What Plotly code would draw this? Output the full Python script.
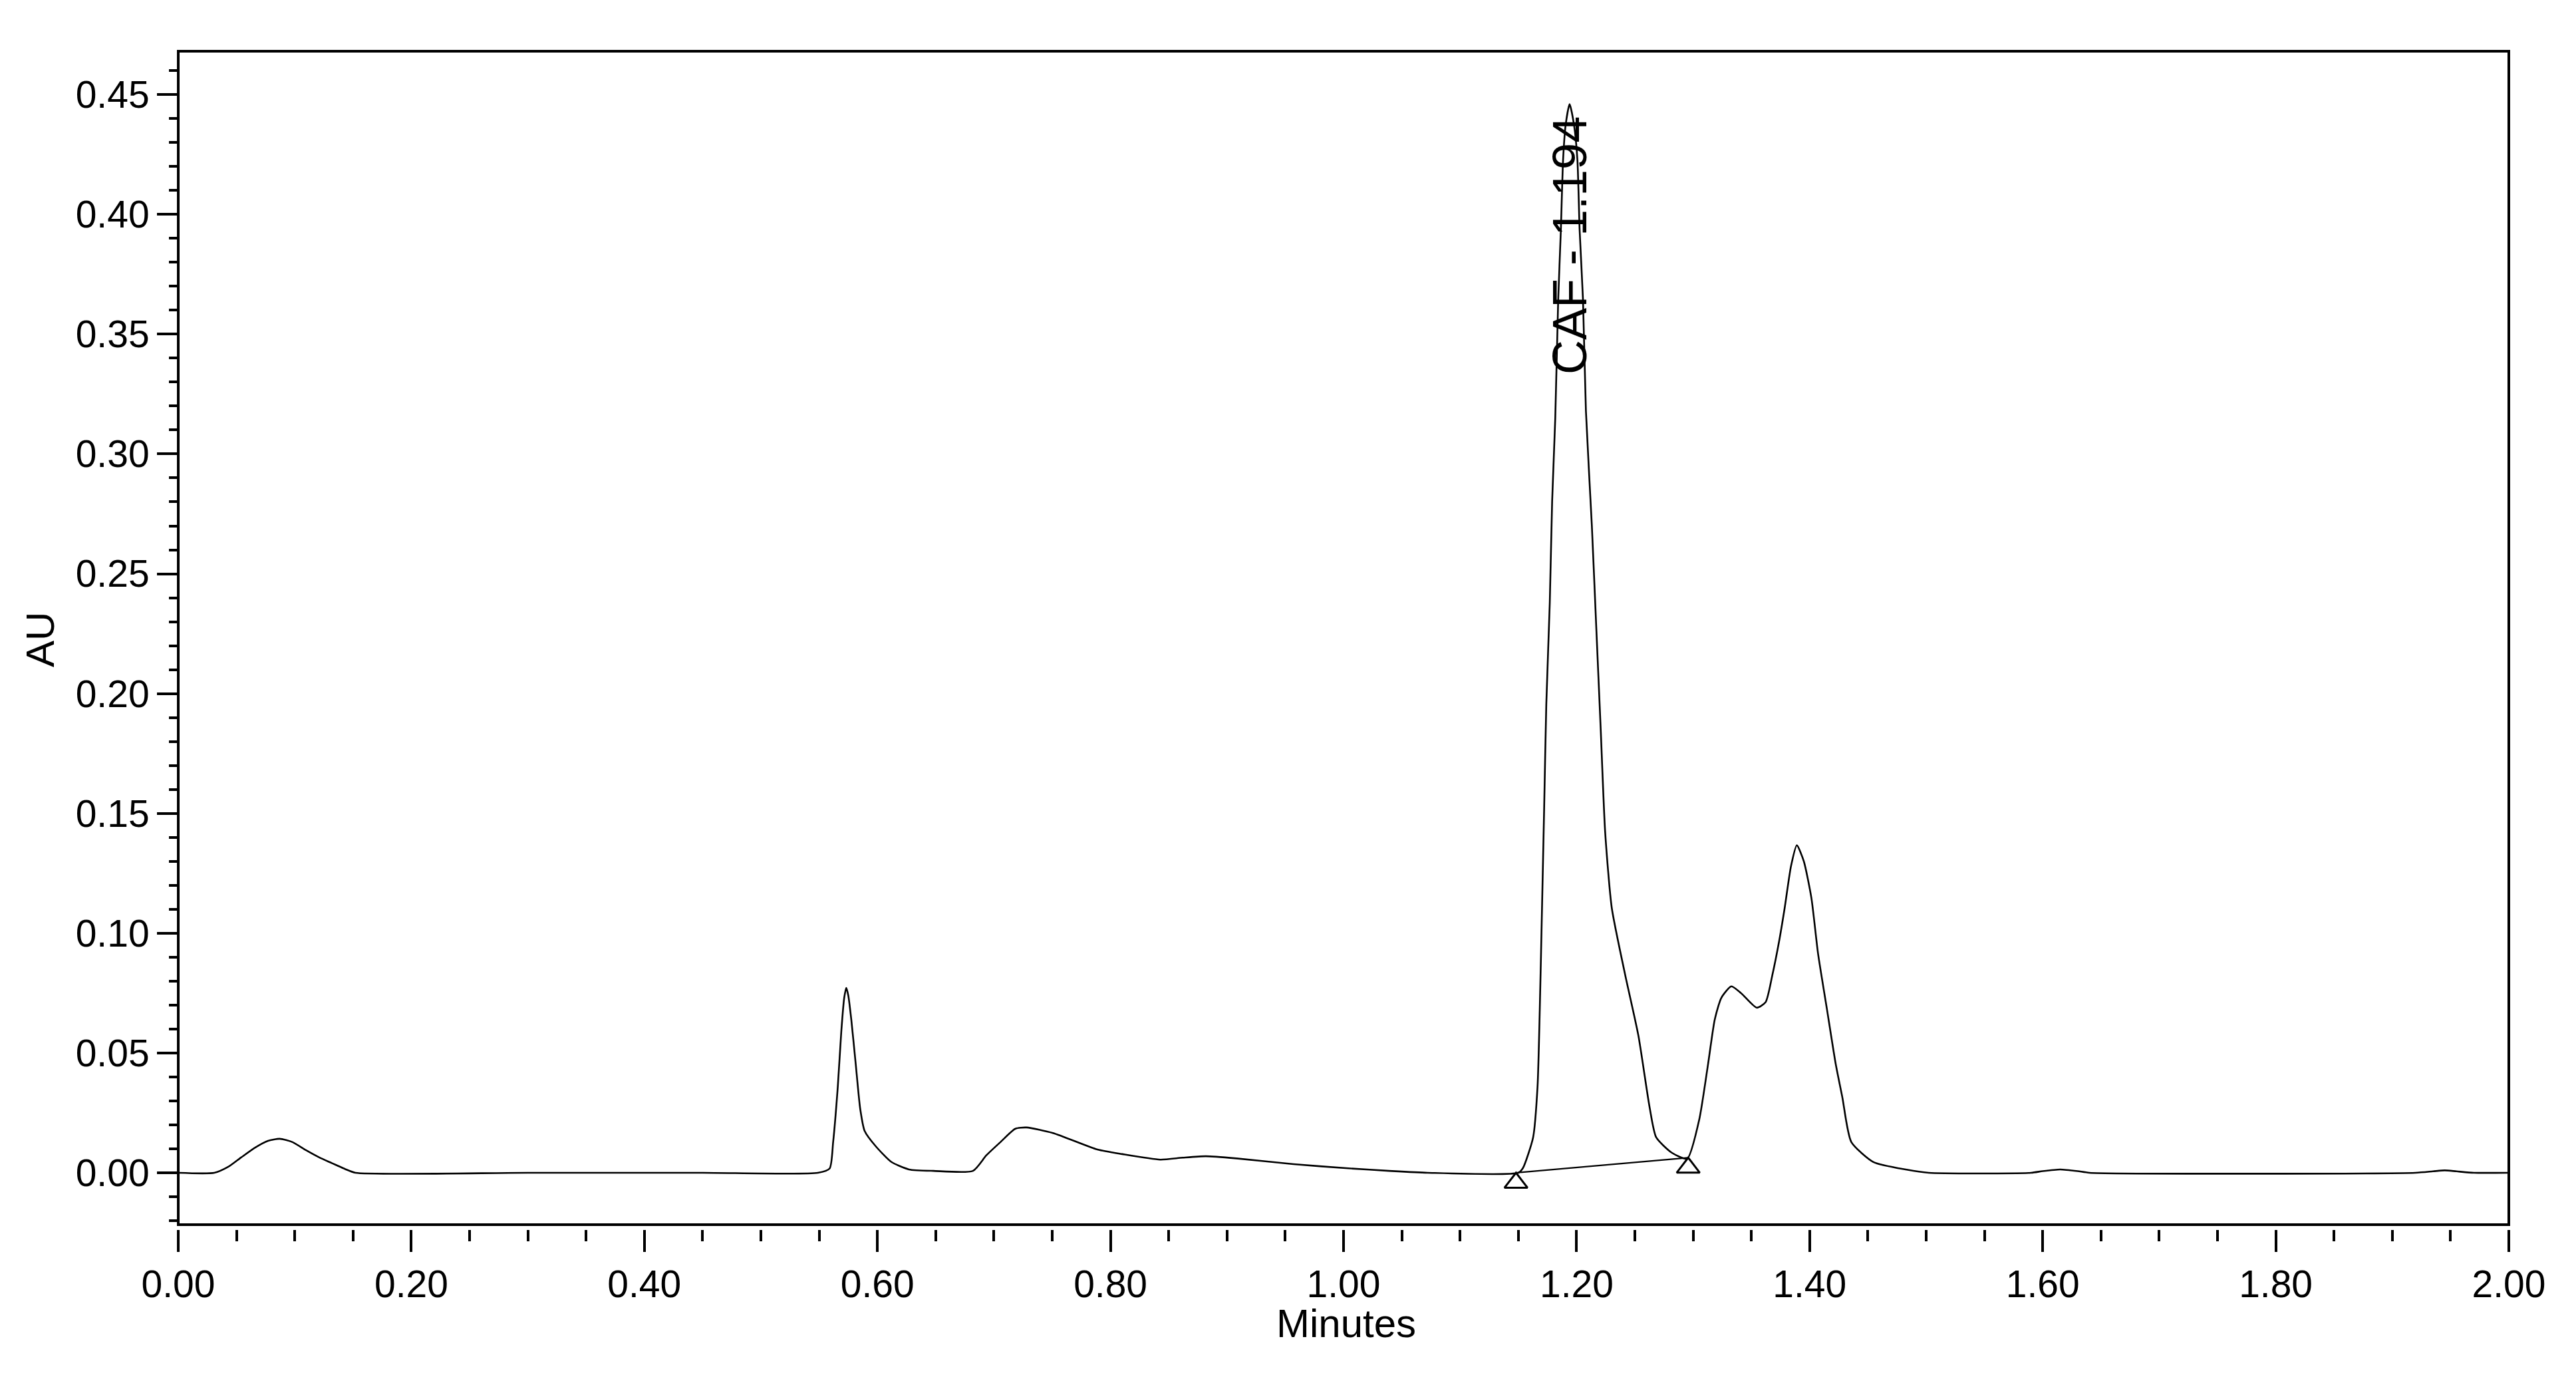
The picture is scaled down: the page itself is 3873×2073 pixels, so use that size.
import plotly.graph_objects as go

# Chromatogram trace (minutes, AU)
time_min = [0.000, 0.031, 0.043, 0.054, 0.066, 0.077, 0.087, 0.098, 0.110, 0.121, 0.132, 0.143, 0.152,
            0.300, 0.450, 0.549, 0.559, 0.562, 0.566, 0.569, 0.5715, 0.5733, 0.575, 0.5776, 0.5814,
            0.5852, 0.589, 0.5985, 0.612, 0.627, 0.648, 0.682, 0.6935, 0.706, 0.7184, 0.728, 0.7506,
            0.7888, 0.810, 0.8427, 0.862, 0.8818, 0.908, 0.957, 1.006, 1.039, 1.072, 1.150, 1.154,
            1.1627, 1.1665, 1.1684, 1.1703, 1.1722, 1.174, 1.177, 1.179, 1.1817, 1.1842, 1.1865,
            1.1884, 1.1906, 1.194, 1.1978, 1.2007, 1.2026, 1.2055, 1.2080, 1.2131, 1.2169, 1.2207,
            1.2245, 1.2302, 1.2416, 1.253, 1.2626, 1.2683, 1.2816, 1.2949, 1.3052, 1.3128, 1.3185,
            1.3242, 1.3328, 1.3413, 1.3546, 1.3622, 1.3679, 1.3736, 1.3784, 1.384, 1.389, 1.395,
            1.4015, 1.4072, 1.4148, 1.4224, 1.4281, 1.4357, 1.4547, 1.4833, 1.502, 1.590, 1.600,
            1.615, 1.630, 1.640, 1.920, 1.935, 1.945, 1.955, 1.970, 2.000]
au = [0.0, 0.0, 0.0025, 0.0064, 0.0105, 0.0133, 0.0142, 0.0128, 0.0093, 0.0064, 0.0040, 0.0016, 0.0,
      0.0, 0.0, 0.0, 0.0018, 0.0128, 0.036, 0.059, 0.073, 0.0772, 0.074, 0.0638, 0.0453,
      0.0268, 0.0175, 0.0111, 0.0045, 0.0014, 0.0008, 0.0008, 0.0073, 0.013, 0.0184, 0.0189, 0.0166,
      0.0097, 0.0078, 0.0055, 0.0063, 0.0069, 0.0060, 0.0036, 0.0018, 0.0008, 0.0, 0.0, 0.002,
      0.0148, 0.0361, 0.068, 0.110, 0.153, 0.1955, 0.238, 0.280, 0.315, 0.364, 0.3935,
      0.4227, 0.4373, 0.446, 0.4373, 0.4227, 0.3935, 0.3643, 0.318, 0.270, 0.2274, 0.185,
      0.1423, 0.1105, 0.0828, 0.0573, 0.0275, 0.0148, 0.0084, 0.0059, 0.0221, 0.0453, 0.0638,
      0.073, 0.0778, 0.0749, 0.0689, 0.0712, 0.0823, 0.0961, 0.110, 0.128, 0.1367, 0.130,
      0.1147, 0.0915, 0.0684, 0.0453, 0.0314, 0.0129, 0.0045, 0.0013, 0.0, 0.0, 0.0007,
      0.0014, 0.0007, 0.0, 0.0, 0.0006, 0.0010, 0.0006, 0.0, 0.0]

# Integration events (baseline start / end) for the labelled peak
event_time = [1.148, 1.2958]
event_au = [0.0, 0.0063]

peak_label = "CAF - 1.194"
peak_time = 1.194
label_au = 0.387

x_range = [0.0, 2.0]
y_range = [-0.02166, 0.4681]

# Page layout (the HTML body adds an 8 px margin around the figure div)
OFF = 8
PAGE_W, PAGE_H = 3873, 2073
PL, PR, PT = 268, 3772, 77        # plot frame left / right / top on the page
P_AXIS = 1848                     # x tick marks start here (frame bottom is 7 px higher)
GAP = 7
W, H = PAGE_W - 2 * OFF, PAGE_H - 2 * OFF
M_L, M_R, M_T = PL - OFF, OFF + W - PR, PT - OFF
M_B = OFF + H - P_AXIS
plot_w = W - M_L - M_R
plot_h = H - M_T - M_B
px_per_au = (plot_h - GAP) / (y_range[1] - y_range[0])
tri_size = 30
tri_offset = (tri_size / 2) / px_per_au  # put the triangle apex on the event point


def paper_x(page_x):
    return (page_x - PL) / plot_w


def paper_y(page_y):
    return (P_AXIS - page_y) / plot_h


FONT = "Liberation Sans, Arial, sans-serif"

fig = go.Figure()
fig.add_trace(go.Scatter(x=time_min, y=au, mode="lines",
                         line=dict(color="black", width=2.6, shape="spline", smoothing=0.6),
                         showlegend=False, hoverinfo="skip"))
fig.add_trace(go.Scatter(x=event_time, y=event_au, mode="lines",
                         line=dict(color="black", width=2.2),
                         showlegend=False, hoverinfo="skip"))
fig.add_trace(go.Scatter(x=event_time, y=[v - tri_offset for v in event_au], mode="markers",
                         marker=dict(symbol="triangle-up-open", size=tri_size, color="black",
                                     line=dict(color="black", width=3)),
                         showlegend=False, hoverinfo="skip"))

fig.add_annotation(x=peak_time, y=label_au, xref="x", yref="y", text=peak_label,
                   textangle=-90, showarrow=False, xanchor="center", yanchor="middle",
                   font=dict(family=FONT, size=72, color="black"))

fig.add_annotation(x=paper_x(61), y=paper_y(962),
                   xref="paper", yref="paper", text="AU", textangle=-90, showarrow=False,
                   xanchor="center", yanchor="middle",
                   font=dict(family=FONT, size=60, color="black"))
fig.add_annotation(x=paper_x(2024), y=paper_y(1989),
                   xref="paper", yref="paper", text="Minutes", showarrow=False,
                   xanchor="center", yanchor="middle",
                   font=dict(family=FONT, size=60, color="black"))

# Frame
fig.add_shape(type="rect", xref="x domain", yref="y domain", x0=0, x1=1, y0=0, y1=1,
              line=dict(color="black", width=4), fillcolor="rgba(0,0,0,0)", layer="above")

fig.update_layout(
    width=W, height=H,
    margin=dict(l=M_L, r=M_R, t=M_T, b=M_B, pad=0),
    paper_bgcolor="white", plot_bgcolor="white",
    font=dict(family=FONT, size=57, color="black"),
    xaxis=dict(range=x_range, domain=[0, 1], anchor="free", position=0,
               showline=False, showgrid=False, zeroline=False,
               ticks="outside", ticklen=33, tickwidth=4, tickcolor="black",
               tick0=0, dtick=0.2, tickformat=".2f",
               tickfont=dict(family=FONT, size=57, color="black"),
               minor=dict(ticks="outside", ticklen=17, tickwidth=4, tickcolor="black",
                          dtick=0.05, tick0=0, showgrid=False)),
    yaxis=dict(range=y_range, domain=[GAP / plot_h, 1], anchor="x",
               showline=False, showgrid=False, zeroline=False,
               ticks="outside", ticklen=31, tickwidth=4, tickcolor="black",
               tick0=0, dtick=0.05, tickformat=".2f",
               tickfont=dict(family=FONT, size=57, color="black"),
               minor=dict(ticks="outside", ticklen=13, tickwidth=4, tickcolor="black",
                          dtick=0.01, tick0=0, showgrid=False)),
)

fig.write_html("out.html", config={"displayModeBar": False})
